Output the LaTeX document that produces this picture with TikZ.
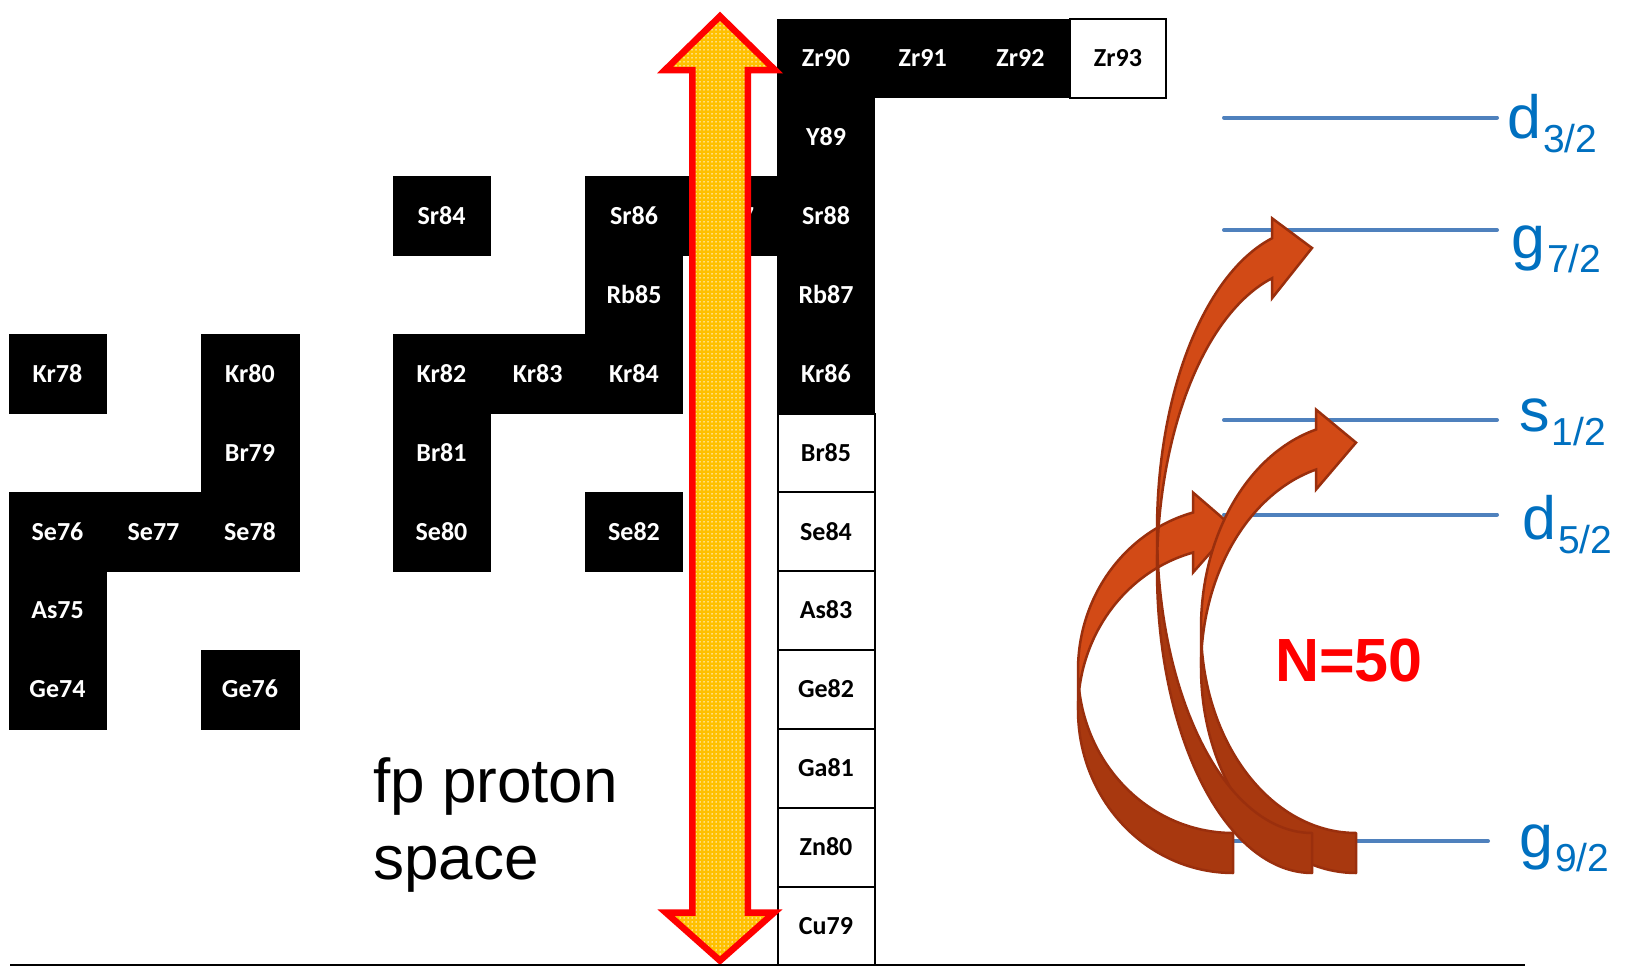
\documentclass[tikz,border=0pt]{standalone}
\usepackage{fontspec}
\newfontfamily\cellfont{Carlito}
\newfontfamily\arialfont{Liberation Sans}
\usetikzlibrary{patterns}
\definecolor{arrowyellow}{HTML}{FFC000}
\definecolor{lvlline}{HTML}{4F81BD}
\definecolor{lvltext}{HTML}{0070C0}
\definecolor{cafrontc}{HTML}{D24A16}
\definecolor{cabackc}{HTML}{A8380F}
\definecolor{caedgec}{HTML}{9A2F0D}
\pgfdeclarepatternformonly{wdots}{\pgfqpoint{-1pt}{-1pt}}{\pgfqpoint{1pt}{1pt}}{\pgfqpoint{4pt}{4pt}}{\pgfpathcircle{\pgfqpoint{0pt}{0pt}}{0.75pt}\pgfusepath{fill}}
\tikzset{
  cellbase/.style={inner sep=0pt, outer sep=0pt, minimum height=78.9pt, anchor=north west,
    font=\cellfont\bfseries\fontsize{26}{26}\selectfont, text height=16.4pt, text depth=0pt},
  bcell/.style={cellbase, fill=black, draw=black, line width=0.8pt, text=white},
  wcell/.style={cellbase, fill=white, draw=black, line width=2pt, text=black},
  lvl/.style={draw=lvlline, line width=4pt, line cap=round},
  lvllabel/.style={anchor=base west, inner sep=0pt, text=lvltext, font=\arialfont\fontsize{61}{61}\selectfont},
  backband/.style={fill=cabackc, draw=caedgec, line width=2.5pt, line join=round},
  frontband/.style={fill=cafrontc, draw=caedgec, line width=2.5pt, line join=miter},
  bigtext/.style={anchor=base west, inner sep=0pt, font=\arialfont\fontsize{62}{62}\selectfont}
}
\def\colx{{9,106,201,299,393,490,585.5,682.5,777.5,874.5,971,1070,1166}}
\newcommand\nucell[4]{%
  \pgfmathsetmacro\nxl{\colx[#2]}%
  \pgfmathsetmacro\nxr{\colx[#2+1]}%
  \pgfmathsetmacro\nyt{19+78.9*#3}%
  \pgfmathsetmacro\nwd{\nxr-\nxl}%
  \node[#4, minimum width=\nwd pt] (#1) at (\nxl,\nyt) {#1};%
}
\newcommand\lvllab[5]{\node[lvllabel] (#1) at (#2,#3) {#4\kern2pt\raisebox{-14pt}{\fontsize{39}{39}\selectfont #5}};}
\newcommand\curvarrow[2]{%
  \pgfmathsetmacro\caR{#1}%
  \pgfmathsetmacro\caH{#2}%
  \pgfmathsetmacro\caCa{873-\caH}%
  \pgfmathsetmacro\caCb{833-\caH}%
  \pgfmathsetmacro\caTa{180+asin(20/\caH)}%
  \pgfmathsetmacro\caTb{180-asin(20/\caH)}%
  \pgfmathsetmacro\caHA{180+acos(40/155)}%
  \pgfmathsetmacro\caX{\caR-40}%
  \pgfmathsetmacro\caYa{\caCa+\caH*sin(\caHA)}%
  \pgfmathsetmacro\caYb{\caCb+\caH*sin(\caHA)}%
  \pgfmathsetmacro\caTip{873-2*\caH-20}%
  \filldraw[backband] plot[domain=90:\caTa, samples=50, variable=\t] ({\caR+155*cos(\t)},{\caCa+\caH*sin(\t)})
     -- plot[domain=\caTb:90, samples=50, variable=\t] ({\caR+155*cos(\t)},{\caCb+\caH*sin(\t)}) -- cycle;
  \filldraw[frontband] plot[domain=180:\caHA, samples=50, variable=\t] ({\caR+155*cos(\t)},{\caCa+\caH*sin(\t)})
     -- (\caX,\caYa+20) -- (\caR,\caTip) -- (\caX,\caYb-20)
     -- plot[domain=\caHA:180, samples=50, variable=\t] ({\caR+155*cos(\t)},{\caCb+\caH*sin(\t)}) -- cycle;
}
\begin{document}
\begin{tikzpicture}[x=1pt,y=-1pt]
\useasboundingbox[fill=white] (0,0) rectangle (1626,966);
% black cells
\nucell{Zr90}{8}{0}{bcell}
\nucell{Zr91}{9}{0}{bcell}
\nucell{Zr92}{10}{0}{bcell}
\nucell{Y89}{8}{1}{bcell}
\nucell{Sr84}{4}{2}{bcell}
\nucell{Sr86}{6}{2}{bcell}
\nucell{Sr87}{7}{2}{bcell}
\nucell{Sr88}{8}{2}{bcell}
\nucell{Rb85}{6}{3}{bcell}
\nucell{Rb87}{8}{3}{bcell}
\nucell{Kr78}{0}{4}{bcell}
\nucell{Kr80}{2}{4}{bcell}
\nucell{Kr82}{4}{4}{bcell}
\nucell{Kr83}{5}{4}{bcell}
\nucell{Kr84}{6}{4}{bcell}
\nucell{Kr86}{8}{4}{bcell}
\nucell{Br79}{2}{5}{bcell}
\nucell{Br81}{4}{5}{bcell}
\nucell{Se76}{0}{6}{bcell}
\nucell{Se77}{1}{6}{bcell}
\nucell{Se78}{2}{6}{bcell}
\nucell{Se80}{4}{6}{bcell}
\nucell{Se82}{6}{6}{bcell}
\nucell{As75}{0}{7}{bcell}
\nucell{Ge74}{0}{8}{bcell}
\nucell{Ge76}{2}{8}{bcell}
% white cells
\nucell{Zr93}{11}{0}{wcell}
\nucell{Br85}{8}{5}{wcell}
\nucell{Se84}{8}{6}{wcell}
\nucell{As83}{8}{7}{wcell}
\nucell{Ge82}{8}{8}{wcell}
\nucell{Ga81}{8}{9}{wcell}
\nucell{Zn80}{8}{10}{wcell}
\nucell{Cu79}{8}{11}{wcell}
% big double arrow
\path[preaction={fill=arrowyellow}, pattern=wdots, pattern color=white, draw=red, line width=6.5pt, line join=miter]
  (720,16.25) -- (775.03,70.05) -- (747.75,70.05) -- (747.75,912.55) -- (774.15,912.55) -- (720,960.65)
  -- (665.85,912.55) -- (692.25,912.55) -- (692.25,70.05) -- (664.97,70.05) -- cycle;
% text
\node[bigtext] (fp1) at (373,802) {fp proton};
\node[bigtext] (fp2) at (373,879) {space};
% levels
\coordinate (d32a) at (1224,117.5); \coordinate (d32b) at (1497,117.5);
\coordinate (g72a) at (1224,230);   \coordinate (g72b) at (1497,230);
\coordinate (s12a) at (1224,420);   \coordinate (s12b) at (1497,420);
\coordinate (d52a) at (1224,514.5); \coordinate (d52b) at (1497,514.5);
\coordinate (g92a) at (1224,841);   \coordinate (g92b) at (1488,841);
\draw[lvl] (d32a) -- (d32b);
\draw[lvl] (g72a) -- (g72b);
\draw[lvl] (s12a) -- (s12b);
\draw[lvl] (d52a) -- (d52b);
\draw[lvl] (g92a) -- (g92b);
\lvllab{Ld32}{1507}{138}{d}{3/2}
\lvllab{Lg72}{1511}{258}{g}{7/2}
\lvllab{Ls12}{1519}{431}{s}{1/2}
\lvllab{Ld52}{1522}{539}{d}{5/2}
\lvllab{Lg92}{1519}{857}{g}{9/2}
% curved arrows
\curvarrow{1233}{163}
\curvarrow{1356}{205.2}
\curvarrow{1312}{302.5}
% N=50
\node[anchor=base west, inner sep=0pt, text=red, font=\arialfont\bfseries\fontsize{61}{61}\selectfont] (N50) at (1275,681.5) {N=50};
% base line
\coordinate (baseL) at (10,964.8);
\coordinate (baseR) at (1525,964.8);
\draw[line width=2.5pt] (baseL) -- (baseR);
\end{tikzpicture}
\end{document}
